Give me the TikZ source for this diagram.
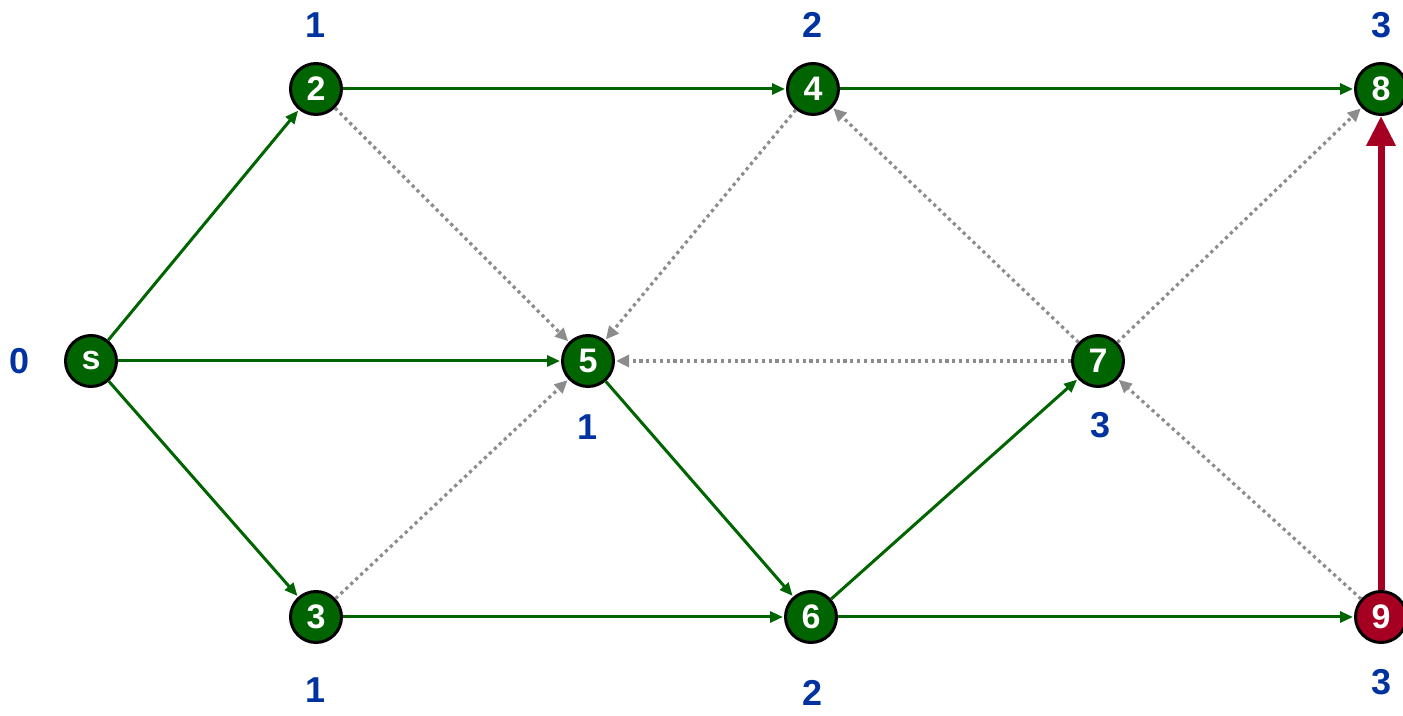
\documentclass[tikz,border=0pt]{standalone}
\usepackage{fontspec}
\setmainfont{Liberation Sans}
\usetikzlibrary{arrows.meta}
\definecolor{ngreen}{HTML}{006400}
\definecolor{ngray}{HTML}{8C8C8C}
\definecolor{nred}{HTML}{A50021}
\definecolor{nblue}{HTML}{0033A0}
\tikzset{
  vtx/.style={circle, draw=black, line width=3pt, fill=ngreen, text=white, minimum size=51pt, inner sep=0pt, font=\fontsize{34}{34}\selectfont\bfseries},
  redvtx/.style={vtx, fill=nred},
  lbl/.style={text=nblue, font=\fontsize{36}{36}\selectfont\bfseries, inner sep=0pt},
  tree/.style={draw=ngreen, line width=3pt, -{Triangle[length=13pt,width=11pt]}, shorten >=1pt},
  nontree/.style={draw=ngray, line width=3.2pt, dash pattern=on 3.2pt off 3.6pt, -{Triangle[length=13pt,width=12pt]}, shorten >=1pt},
  redge/.style={draw=nred, line width=7pt, -{Triangle[length=30pt,width=28pt]}}
}
\begin{document}
\begin{tikzpicture}[x=1pt,y=1pt]
\useasboundingbox (0,0) rectangle (1403,715);
\node[vtx] (s) at (91,354) {s};
\node[vtx] (n2) at (316,626) {2};
\node[vtx] (n4) at (813,626) {4};
\node[vtx] (n8) at (1381,626) {8};
\node[vtx] (n5) at (588,354) {5};
\node[vtx] (n7) at (1098,354) {7};
\node[vtx] (n3) at (316,98) {3};
\node[vtx] (n6) at (811,98) {6};
\node[redvtx] (n9) at (1381,98) {9};
\node[lbl] (l0) at (20,354) {0};
\node[lbl] (l2) at (316,690) {1};
\node[lbl] (l4) at (813,690) {2};
\node[lbl] (l8) at (1381,690) {3};
\node[lbl] (l5) at (588,288) {1};
\node[lbl] (l7) at (1100,290) {3};
\node[lbl] (l3) at (316,25) {1};
\node[lbl] (l6) at (813,22) {2};
\node[lbl] (l9) at (1381,33) {3};
\draw[nontree] (n2) -- (n5);
\draw[nontree] (n4) -- (n5);
\draw[nontree] (n3) -- (n5);
\draw[nontree] (n7) -- (n5);
\draw[nontree] (n7) -- (n4);
\draw[nontree] (n7) -- (n8);
\draw[nontree] (n9) -- (n7);
\draw[tree] (s) -- (n2);
\draw[tree] (s) -- (n5);
\draw[tree] (s) -- (n3);
\draw[tree] (n2) -- (n4);
\draw[tree] (n4) -- (n8);
\draw[tree] (n5) -- (n6);
\draw[tree] (n6) -- (n7);
\draw[tree] (n3) -- (n6);
\draw[tree] (n6) -- (n9);
\draw[redge] (n9) -- (n8);
\end{tikzpicture}
\end{document}
